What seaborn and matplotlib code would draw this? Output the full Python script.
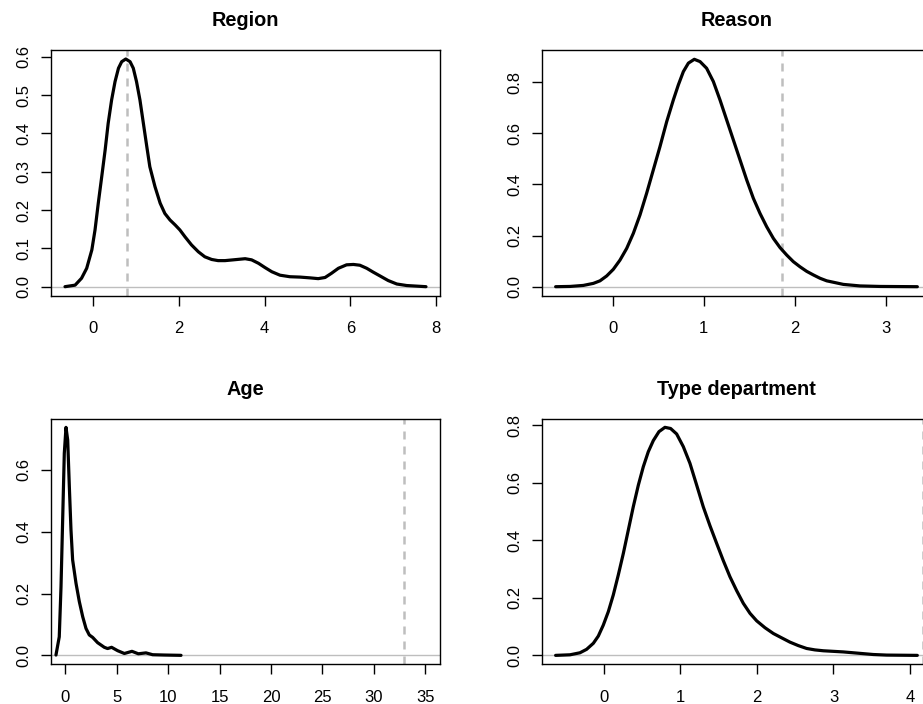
import matplotlib
matplotlib.use("Agg")
import matplotlib.pyplot as plt
import seaborn as sns
import pandas as pd

# Kernel density estimates of each variable, read as (x, density) pairs
region_x = [-0.645, -0.41, -0.26, -0.14, -0.02, 0.054, 0.13, 0.21, 0.29, 0.36, 0.44, 0.52,
            0.60, 0.675, 0.77, 0.87, 0.945, 1.02, 1.10, 1.18, 1.26, 1.33, 1.45, 1.57, 1.68,
            1.80, 1.92, 2.03, 2.15, 2.30, 2.46, 2.61, 2.77, 2.92, 3.08, 3.27, 3.55, 3.70,
            3.86, 4.01, 4.17, 4.36, 4.59, 4.83, 5.06, 5.25, 5.41, 5.56, 5.72, 5.91, 6.07,
            6.22, 6.38, 6.53, 6.69, 6.88, 7.08, 7.31, 7.76]
region_y = [0.0, 0.004, 0.022, 0.048, 0.096, 0.148, 0.218, 0.287, 0.357, 0.426, 0.487, 0.535,
            0.570, 0.587, 0.594, 0.587, 0.570, 0.535, 0.487, 0.426, 0.365, 0.313, 0.261,
            0.218, 0.191, 0.174, 0.161, 0.148, 0.130, 0.109, 0.091, 0.078, 0.071, 0.068,
            0.068, 0.070, 0.073, 0.070, 0.061, 0.050, 0.039, 0.030, 0.026, 0.025, 0.023,
            0.021, 0.024, 0.035, 0.048, 0.057, 0.058, 0.056, 0.048, 0.038, 0.028, 0.016,
            0.007, 0.003, 0.0]

reason_x = [-0.626, -0.468, -0.322, -0.212, -0.139, -0.066, 0.007, 0.080, 0.154, 0.227,
            0.300, 0.373, 0.446, 0.519, 0.593, 0.666, 0.721, 0.776, 0.831, 0.896, 0.959,
            1.031, 1.105, 1.178, 1.251, 1.325, 1.398, 1.471, 1.544, 1.617, 1.690, 1.764,
            1.837, 1.910, 1.983, 2.056, 2.130, 2.203, 2.276, 2.349, 2.441, 2.532, 2.715,
            2.935, 3.344]
reason_y = [0.0, 0.001, 0.005, 0.013, 0.023, 0.042, 0.068, 0.104, 0.150, 0.209, 0.281,
            0.366, 0.457, 0.548, 0.646, 0.731, 0.790, 0.842, 0.875, 0.890, 0.881, 0.855,
            0.803, 0.731, 0.653, 0.574, 0.496, 0.418, 0.346, 0.287, 0.235, 0.189, 0.153,
            0.124, 0.098, 0.078, 0.060, 0.046, 0.033, 0.023, 0.016, 0.009, 0.003, 0.001,
            0.0]

age_x = [-0.91, -0.59, -0.42, -0.26, -0.10, 0.065, 0.23, 0.39, 0.55, 0.71, 1.04, 1.36, 1.69,
         2.01, 2.33, 2.66, 3.14, 3.79, 4.11, 4.50, 5.09, 5.74, 6.48, 7.10, 7.84, 8.49, 9.62,
         11.25]
age_y = [0.001, 0.060, 0.222, 0.438, 0.654, 0.738, 0.697, 0.546, 0.406, 0.309, 0.233, 0.174,
         0.125, 0.087, 0.066, 0.058, 0.041, 0.026, 0.022, 0.026, 0.015, 0.006, 0.013, 0.005,
         0.008, 0.002, 0.001, 0.0]

dept_x = [-0.632, -0.444, -0.314, -0.227, -0.139, -0.074, -0.009, 0.057, 0.122, 0.187,
          0.253, 0.318, 0.383, 0.449, 0.514, 0.579, 0.645, 0.719, 0.797, 0.871, 0.950,
          1.037, 1.124, 1.211, 1.298, 1.386, 1.473, 1.560, 1.647, 1.734, 1.821, 1.909,
          1.996, 2.105, 2.214, 2.322, 2.431, 2.540, 2.649, 2.758, 2.867, 2.998, 3.128,
          3.259, 3.390, 3.521, 3.695, 4.096]
dept_y = [0.0, 0.002, 0.009, 0.021, 0.042, 0.067, 0.105, 0.152, 0.210, 0.279, 0.354, 0.435,
          0.516, 0.591, 0.655, 0.707, 0.746, 0.777, 0.792, 0.788, 0.769, 0.725, 0.667,
          0.592, 0.516, 0.450, 0.389, 0.329, 0.273, 0.225, 0.181, 0.146, 0.120, 0.096,
          0.076, 0.061, 0.046, 0.034, 0.024, 0.019, 0.016, 0.014, 0.012, 0.009, 0.006,
          0.003, 0.001, 0.0]

titles = ["Region", "Reason", "Age", "Type department"]
ref_lines = [0.80, 1.86, 32.9, 4.17]
x_ticks = [[0, 2, 4, 6, 8], [0, 1, 2, 3], [0, 5, 10, 15, 20, 25, 30, 35], [0, 1, 2, 3, 4]]
y_ticks = [[0.0, 0.1, 0.2, 0.3, 0.4, 0.5, 0.6], [0.0, 0.2, 0.4, 0.6, 0.8],
           [0.0, 0.2, 0.4, 0.6], [0.0, 0.2, 0.4, 0.6, 0.8]]

sns.set_theme(style="white")
plt.rcParams["font.family"] = ["Liberation Sans", "DejaVu Sans"]
plt.rcParams["text.color"] = "black"

W, H = 923, 704
fig = plt.figure(figsize=(W / 100, H / 100), dpi=100)
fig.patch.set_facecolor("white")

# panel boxes in pixels: left, right, top, bottom
boxes = [(51, 440, 50, 296), (541.7, 931, 50, 296),
         (51, 440, 418.7, 664.3), (541.7, 931, 418.7, 664.3)]
xlims = [(-0.971, 8.086), (-0.779, 3.494), (-1.393, 36.43), (-0.814, 4.275)]
ylims = [(-0.0243, 0.6175), (-0.0364, 0.9264), (-0.029, 0.766), (-0.031, 0.822)]
curves = [(region_x, region_y), (reason_x, reason_y), (age_x, age_y), (dept_x, dept_y)]

for i in range(4):
    l, r, t, b = boxes[i]
    ax = fig.add_axes([l / W, 1 - b / H, (r - l) / W, (b - t) / H])
    ax.set_facecolor("white")
    ax.axhline(0, color="#BEBEBE", lw=1.0, zorder=1)
    ax.axvline(ref_lines[i], color="#BEBEBE", lw=1.8, dashes=(3.2, 2.8), zorder=1)
    df = pd.DataFrame({"x": curves[i][0], "density": curves[i][1]})
    sns.lineplot(data=df, x="x", y="density", ax=ax, color="black", lw=2.3,
                 estimator=None, sort=False, zorder=3)
    ax.set_xlim(*xlims[i])
    ax.set_ylim(*ylims[i])
    ax.set_xticks(x_ticks[i])
    ax.set_yticks(y_ticks[i])
    ax.set_xticklabels([str(v) for v in x_ticks[i]])
    ax.set_yticklabels([f"{v:.1f}" for v in y_ticks[i]])
    ax.set_xlabel("")
    ax.set_ylabel("")
    ax.tick_params(axis="both", direction="out", length=7.2, width=1.0, color="black",
                   labelsize=12, labelcolor="black", bottom=True, left=True)
    ax.tick_params(axis="x", pad=11)
    ax.tick_params(axis="y", pad=6.8)
    for lab in ax.get_yticklabels():
        lab.set_rotation(90)
        lab.set_va("center")
    for sp in ax.spines.values():
        sp.set_visible(True)
        sp.set_color("black")
        sp.set_linewidth(1.0)
    ax.set_title(titles[i], fontsize=14.3, fontweight="bold", color="black", pad=17)

fig.savefig("out.png", dpi=100, facecolor="white")
